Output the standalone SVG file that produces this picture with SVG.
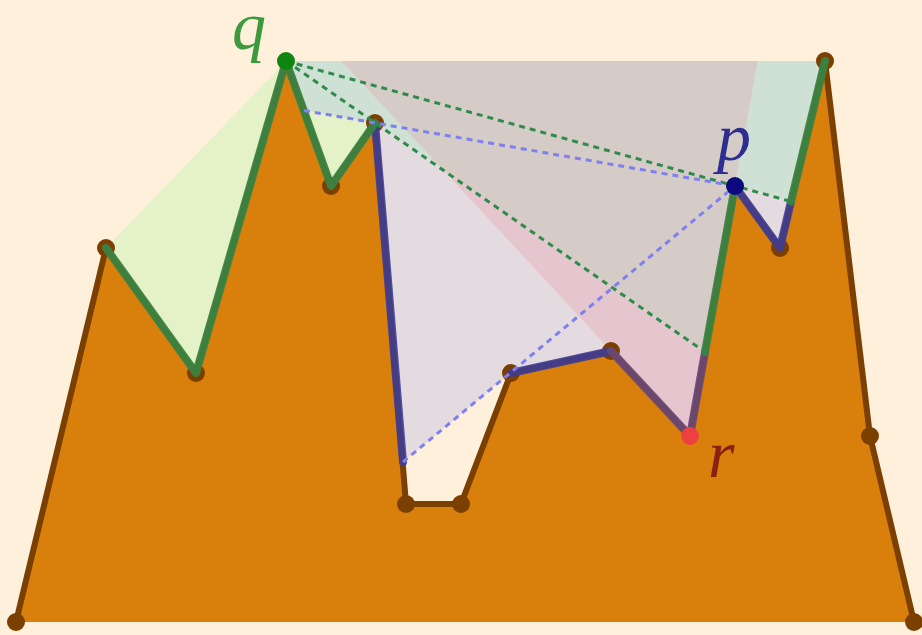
<svg xmlns="http://www.w3.org/2000/svg" width="922" height="635" viewBox="0 0 922 635">
<style>
.reg{stroke:none}
.g{fill:#e5f2c8}.t{fill:#cfe0d5}.gr{fill:#d5cbc7}.lv{fill:#e4dbe0}.pk{fill:#e5c6cf}
.terrain{fill:#d97f0b;stroke:none}
.outline{fill:none;stroke:#7b3f00;stroke-width:6;stroke-linejoin:round;stroke-linecap:round}
.dot{fill:#7b3f00}
.sg{fill:none;stroke:#3a8443;stroke-width:8;stroke-linejoin:round;stroke-linecap:round;stroke-opacity:0.92}
.sb{fill:none;stroke:#3c3c96;stroke-width:8;stroke-linejoin:round;stroke-linecap:round;stroke-opacity:0.88}
.sp{fill:none;stroke:#6a4878;stroke-width:8;stroke-linejoin:round;stroke-linecap:round;stroke-opacity:0.9}
.dg{fill:none;stroke:#2e8b4a;stroke-width:3;stroke-dasharray:6 5}
.db{fill:none;stroke:#7f7ff2;stroke-width:3;stroke-dasharray:6 5}
.lbl{font-family:"Liberation Serif","DejaVu Serif",serif;font-style:italic;font-size:68px}
</style>
<rect width="922" height="635" fill="#fef0db"/>
<g id="regions">
<polygon class="reg g" points="106,248 286,61 196,373"/>
<polygon class="reg g" points="304,110.5 331,186 375,123"/>
<polygon class="reg t" points="286,61 341,61 442,169 375,123 304,110.5"/>
<polygon class="reg t" points="758,61 825,61 791,201.5 735,186"/>
<polygon class="reg gr" points="341,61 758,61 735,186 705,352 442,169"/>
<polygon class="reg lv" points="375,123 442,169 611,351 511,373 403,462"/>
<polygon class="reg lv" points="735,186 791,201.5 780,248"/>
<polygon class="reg pk" points="442,169 705,352 690,436 611,351"/>
</g>
<g id="terrain">
<polygon class="terrain" points="16,622 106,248 196,373 286,61 331,186 375,123 406,504 461,504 511,373 611,351 690,436 735,186 780,248 825,61 870,436 914,622"/>
<polyline class="outline" points="16,622 106,248 196,373 286,61 331,186 375,123 406,504 461,504 511,373 611,351 690,436 735,186 780,248 825,61 870,436 914,622"/>
</g>
<g id="vertices">
<circle class="dot" cx="16" cy="622" r="9"/>
<circle class="dot" cx="106" cy="248" r="9"/>
<circle class="dot" cx="196" cy="373" r="9"/>
<circle class="dot" cx="331" cy="186" r="9"/>
<circle class="dot" cx="375" cy="123" r="9"/>
<circle class="dot" cx="406" cy="504" r="9"/>
<circle class="dot" cx="461" cy="504" r="9"/>
<circle class="dot" cx="511" cy="373" r="9"/>
<circle class="dot" cx="611" cy="351" r="9"/>
<circle class="dot" cx="780" cy="248" r="9"/>
<circle class="dot" cx="825" cy="61" r="9"/>
<circle class="dot" cx="870" cy="436" r="9"/>
<circle class="dot" cx="914" cy="622" r="9"/>
</g>
<g id="connectors">
<polyline class="sb" points="375,123 403,462"/>
<polyline class="sb" points="511,373 611,351"/>
<polyline class="sb" points="735,186 780,248 791,201.5"/>
<polyline class="sp" points="611,351 690,436 705,352"/>
<polyline class="sg" points="106,248 196,373 286,61 331,186 375,123"/>
<polyline class="sg" points="705,352 735,186"/>
<polyline class="sg" points="791,201.5 825,61"/>
<line class="dg" x1="286" y1="61" x2="705" y2="352"/>
<line class="dg" x1="286" y1="61" x2="791" y2="201.5"/>
<line class="db" x1="304" y1="110.5" x2="735" y2="186"/>
<line class="db" x1="403" y1="462" x2="735" y2="186"/>
</g>
<g id="q"><circle cx="286" cy="61" r="9" fill="#0f850f"/><text class="lbl" x="232" y="49" fill="#3c9a3c">q</text></g>
<g id="p"><circle cx="735" cy="186" r="9" fill="#0a0a7e"/><text class="lbl" x="717" y="160" fill="#2e2e8e">p</text></g>
<g id="r"><circle cx="690" cy="436" r="9" fill="#ee4040"/><text class="lbl" x="708" y="477" fill="#8b2010">r</text></g>
</svg>
